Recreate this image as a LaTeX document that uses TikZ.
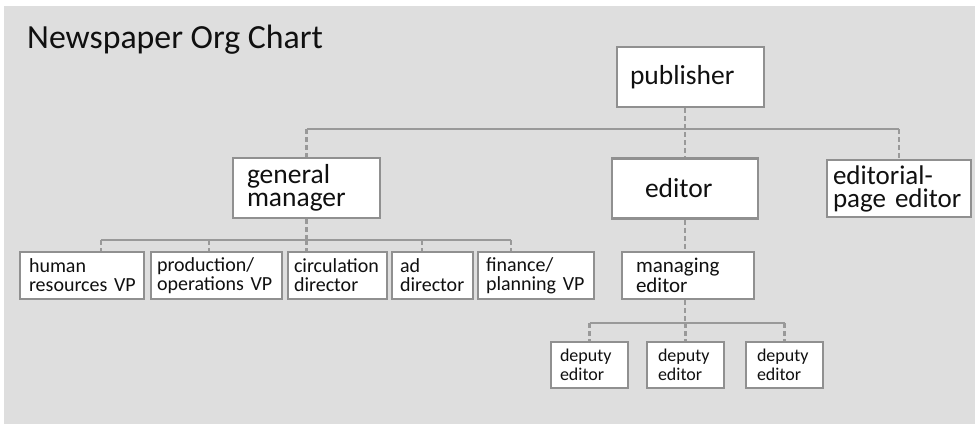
\documentclass[tikz,border=0pt]{standalone}
\usepackage{fontspec}
\setmainfont{Carlito}
\definecolor{bg}{HTML}{DEDEDE}
\definecolor{bd}{HTML}{909090}
\definecolor{ln}{HTML}{999999}
\definecolor{tx}{HTML}{101010}
\begin{document}
\begin{tikzpicture}[x=1pt,y=-1pt,
  obox/.style={draw=bd, line width=2.4pt, fill=white, align=left, inner ysep=0pt, text=tx},
  big/.style={obox, font=\fontsize{27.5}{23.5}\selectfont, minimum height=60pt},
  mid/.style={obox, font=\fontsize{20}{19}\selectfont, minimum height=47pt},
  sml/.style={obox, font=\fontsize{18}{18.5}\selectfont, minimum height=46pt},
  conn/.style={draw=ln, line width=2.2pt},
  dconn/.style={conn, dash pattern=on 5pt off 3pt}]
\useasboundingbox (0,0) rectangle (975,424);
\fill[bg] (4,6) rectangle (975,424);
\node[anchor=base west, inner sep=0pt, text=tx, font=\fontsize{33.8}{40}\selectfont] (title) at (27,48) {Newspaper Org Chart};
% top level
\node[big, text width=121pt, inner xsep=13pt] (pub) at (690.5,77) {publisher};
\node[big, text width=119pt, inner xsep=14pt] (gm) at (306.5,188) {general\\manager};
\node[big, text width=80pt, inner xsep=33pt] (ed) at (685,188.5) {editor};
\node[big, font=\fontsize{27}{23}\selectfont, text width=132pt, inner xsep=6pt, minimum height=57pt] (epe) at (899,188.5) {editorial-\\page~editor};
% general manager reports
\node[mid, text width=106pt, inner xsep=9pt] (hr) at (82,275.5) {human\\resources~VP};
\node[mid, text width=119pt, inner xsep=6pt] (prod) at (216.5,275.5) {production/\\operations~VP};
\node[mid, text width=87pt, inner xsep=6pt] (circ) at (337.5,275.5) {circulation\\director};
\node[mid, text width=65pt, inner xsep=8pt] (ad) at (432.5,275.5) {ad\\director};
\node[mid, text width=100pt, inner xsep=8pt] (fin) at (536,275.5) {finance/\\planning~VP};
% editor reports
\node[mid, font=\fontsize{21}{20}\selectfont, text width=104pt, inner xsep=14pt] (me) at (688,275.5) {managing\\editor};
\node[sml, text width=59pt, inner xsep=9pt] (d1) at (589.5,365) {deputy\\editor};
\node[sml, text width=55pt, inner xsep=11pt] (d2) at (685.5,365) {deputy\\editor};
\node[sml, text width=55pt, inner xsep=11pt] (d3) at (784.5,365) {deputy\\editor};
% connectors: publisher level
\coordinate (b1) at (306,129);
\draw[conn] (gm.north |- b1) -- (epe.north |- b1);
\draw[dconn] (gm.north |- b1) -- (gm.north);
\draw[dconn] (epe.north |- b1) -- (epe.north);
\draw[dconn] (pub.south -| ed.north) -- (ed.north);
% connectors: general manager level
\coordinate (b2) at (306,240);
\coordinate (t1) at (101,240);
\coordinate (t2) at (209,240);
\coordinate (t3) at (gm.south |- b2);
\coordinate (t4) at (422,240);
\coordinate (t5) at (511,240);
\draw[dconn] (gm.south) -- (t3);
\draw[conn] (t1) -- (t5);
\draw[dconn] (t1) -- (t1 |- hr.north);
\draw[dconn] (t2) -- (t2 |- prod.north);
\draw[dconn] (t3) -- (t3 |- circ.north);
\draw[dconn] (t4) -- (t4 |- ad.north);
\draw[dconn] (t5) -- (t5 |- fin.north);
% connectors: editor level
\coordinate (b3) at (686,323);
\draw[dconn] (ed.south) -- (ed.south |- me.north);
\draw[dconn] (ed.south |- me.south) -- (ed.south |- b3);
\draw[conn] (d1.north |- b3) -- (d3.north |- b3);
\draw[dconn] (d1.north |- b3) -- (d1.north);
\draw[dconn] (d2.north |- b3) -- (d2.north);
\draw[dconn] (d3.north |- b3) -- (d3.north);
\end{tikzpicture}
\end{document}
